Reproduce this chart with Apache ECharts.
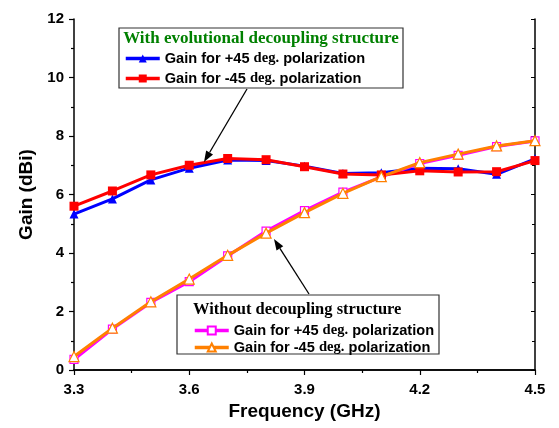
<!DOCTYPE html>
<html>
<head>
<meta charset="utf-8">
<script src="https://cdn.jsdelivr.net/npm/echarts@6/dist/echarts.min.js"></script>
<style>
  html, body { margin: 0; padding: 0; background: #fff; }
  #chart { width: 559px; height: 428px; }
</style>
</head>
<body>
<div id="chart"></div>
<script>
// 频率 (GHz)
const freq = [3.3, 3.4, 3.5, 3.6, 3.7, 3.8, 3.9, 4.0, 4.1, 4.2, 4.3, 4.4, 4.5]

// With evolutional decoupling structure
const withPlus45 = [5.33, 5.85, 6.5, 6.9, 7.18, 7.16, 6.97, 6.72, 6.74, 6.9, 6.88, 6.69, 7.22]
const withMinus45 = [5.6, 6.12, 6.67, 7.0, 7.23, 7.19, 6.95, 6.7, 6.67, 6.81, 6.77, 6.78, 7.16]

// Without decoupling structure
const withoutPlus45 = [0.36, 1.4, 2.31, 3.02, 3.9, 4.75, 5.45, 6.08, 6.6, 7.06, 7.34, 7.64, 7.83]
const withoutMinus45 = [0.46, 1.43, 2.33, 3.11, 3.92, 4.68, 5.38, 6.04, 6.61, 7.09, 7.38, 7.66, 7.84]

// 轴刻度
const xTicks = { min: 3.3, max: 4.5, interval: 0.3 }
const yTicks = { min: 0, max: 12, interval: 2 }

const names = [
  'Gain for +45 deg. polarization',
  'Gain for -45 deg. polarization',
  'Gain for +45 deg. polarization ',
  'Gain for -45 deg. polarization '
]

const pairs = (ys) => freq.map((x, i) => [x, ys[i]])

const richText = {
  a: { fontFamily: 'Liberation Sans, Arial', fontWeight: 'bold', fontSize: 14.6, color: '#000' },
  b: { fontFamily: 'Liberation Serif, Times New Roman', fontWeight: 'bold', fontSize: 14.6, color: '#000' }
}
const legendFormatter = (name) => {
  const s = name.trim()
  const parts = s.split('deg.')
  return '{a|' + parts[0] + '}{b|deg.}{a|' + parts[1] + '}'
}

// 箭头
const arrow = (x1, y1, x2, y2) => {
  const ang = Math.atan2(y2 - y1, x2 - x1)
  const len = 11, w = 4
  const bx = x2 - len * Math.cos(ang), by = y2 - len * Math.sin(ang)
  const px = -Math.sin(ang) * w, py = Math.cos(ang) * w
  return [
    { type: 'line', shape: { x1, y1, x2: bx, y2: by }, style: { stroke: '#000', lineWidth: 1.3 }, z: 50 },
    { type: 'polygon', shape: { points: [[x2, y2], [bx + px, by + py], [bx - px, by - py]] }, style: { fill: '#000' }, z: 50 }
  ]
}

const chart = echarts.init(document.getElementById('chart'))

const axisText = { fontFamily: 'Liberation Sans, Arial', fontWeight: 'bold', fontSize: 15, color: '#000' }

const option = {
  animation: false,
  backgroundColor: '#fff',
  grid: { left: 74, right: 24, top: 19, bottom: 58 },
  xAxis: [
    {
      type: 'value', min: xTicks.min, max: xTicks.max, interval: xTicks.interval,
      name: 'Frequency (GHz)', nameLocation: 'middle', nameGap: 30,
      nameTextStyle: { fontFamily: 'Liberation Sans, Arial', fontWeight: 'bold', fontSize: 19, color: '#000' },
      axisLine: { lineStyle: { color: '#000', width: 1.5 } },
      axisTick: { inside: false, length: 5, lineStyle: { color: '#000', width: 1.2 } },
      minorTick: { show: true, splitNumber: 2, length: 3, lineStyle: { color: '#000', width: 1.2 } },
      axisLabel: Object.assign({ margin: 12, formatter: (v) => v.toFixed(1) }, axisText),
      splitLine: { show: false }
    },
    {
      type: 'value', position: 'top', min: xTicks.min, max: xTicks.max, interval: xTicks.interval,
      axisLine: { lineStyle: { color: '#000', width: 1.5 } },
      axisTick: { inside: true, length: 4, lineStyle: { color: '#000' } },
      minorTick: { show: true, splitNumber: 2, length: 3, lineStyle: { color: '#000' } },
      axisLabel: { show: false },
      splitLine: { show: false }
    }
  ],
  yAxis: [
    {
      type: 'value', min: yTicks.min, max: yTicks.max, interval: yTicks.interval,
      name: 'Gain (dBi)', nameLocation: 'middle', nameGap: 36,
      nameTextStyle: { fontFamily: 'Liberation Sans, Arial', fontWeight: 'bold', fontSize: 19, color: '#000' },
      axisLine: { show: true, lineStyle: { color: '#000', width: 1.5 } },
      axisTick: { show: true, inside: false, length: 5, lineStyle: { color: '#000', width: 1.2 } },
      minorTick: { show: true, splitNumber: 2, length: 3, lineStyle: { color: '#000', width: 1.2 } },
      axisLabel: Object.assign({ margin: 10 }, axisText),
      splitLine: { show: false }
    },
    {
      type: 'value', position: 'right', min: yTicks.min, max: yTicks.max, interval: yTicks.interval,
      axisLine: { show: true, lineStyle: { color: '#000', width: 1.5 } },
      axisTick: { show: true, inside: true, length: 4, lineStyle: { color: '#000' } },
      minorTick: { show: true, splitNumber: 2, length: 3, lineStyle: { color: '#000' } },
      axisLabel: { show: false },
      splitLine: { show: false }
    }
  ],
  legend: [
    {
      data: [names[0], names[1]],
      orient: 'vertical', left: 119, top: 46, itemGap: 5,
      itemWidth: 34, itemHeight: 10, z: 60,
      lineStyle: { width: 3.5 },
      formatter: legendFormatter,
      textStyle: { rich: richText }
    },
    {
      data: [names[2], names[3]],
      orient: 'vertical', left: 188, top: 318, itemGap: 2,
      itemWidth: 34, itemHeight: 10, z: 60,
      lineStyle: { width: 3.5 },
      formatter: legendFormatter,
      textStyle: { rich: richText }
    }
  ],
  series: [
    {
      name: names[0], type: 'line', data: pairs(withPlus45),
      symbol: 'triangle', symbolSize: 9,
      lineStyle: { color: '#0000ff', width: 3 },
      itemStyle: { color: '#0000ff' }, z: 2
    },
    {
      name: names[1], type: 'line', data: pairs(withMinus45),
      symbol: 'rect', symbolSize: 9,
      lineStyle: { color: '#ff0000', width: 3 },
      itemStyle: { color: '#ff0000' }, z: 3
    },
    {
      name: names[2], type: 'line', data: pairs(withoutPlus45),
      symbol: 'rect', symbolSize: 8,
      lineStyle: { color: '#ff00ff', width: 3 },
      itemStyle: { color: '#fff', borderColor: '#ff00ff', borderWidth: 1.2 }, z: 2
    },
    {
      name: names[3], type: 'line', data: pairs(withoutMinus45),
      symbol: 'triangle', symbolSize: 10,
      lineStyle: { color: '#ff8000', width: 3 },
      itemStyle: { color: '#fff', borderColor: '#ff8000', borderWidth: 1.2 }, z: 3
    }
  ],
  graphic: [
    // 图例框 1
    { type: 'rect', shape: { x: 119, y: 28, width: 284, height: 60 }, style: { fill: '#fff', stroke: '#333', lineWidth: 1.2 }, z: 20 },
    { type: 'text', x: 261, y: 39, style: { text: 'With evolutional decoupling structure', fill: '#008000', font: 'bold 17px "Liberation Serif", "Times New Roman", serif', align: 'center', verticalAlign: 'middle' }, z: 30 },
    // 图例框 2
    { type: 'rect', shape: { x: 177, y: 295, width: 262, height: 59 }, style: { fill: '#fff', stroke: '#333', lineWidth: 1.2 }, z: 20 },
    { type: 'text', x: 193, y: 310, style: { text: 'Without decoupling structure', fill: '#000', font: 'bold 16.5px "Liberation Serif", "Times New Roman", serif', align: 'left', verticalAlign: 'middle' }, z: 30 },
    ...arrow(247, 89, 204, 162),
    ...arrow(309, 294, 274, 239)
  ]
}

chart.setOption(option)
</script>
</body>
</html>
